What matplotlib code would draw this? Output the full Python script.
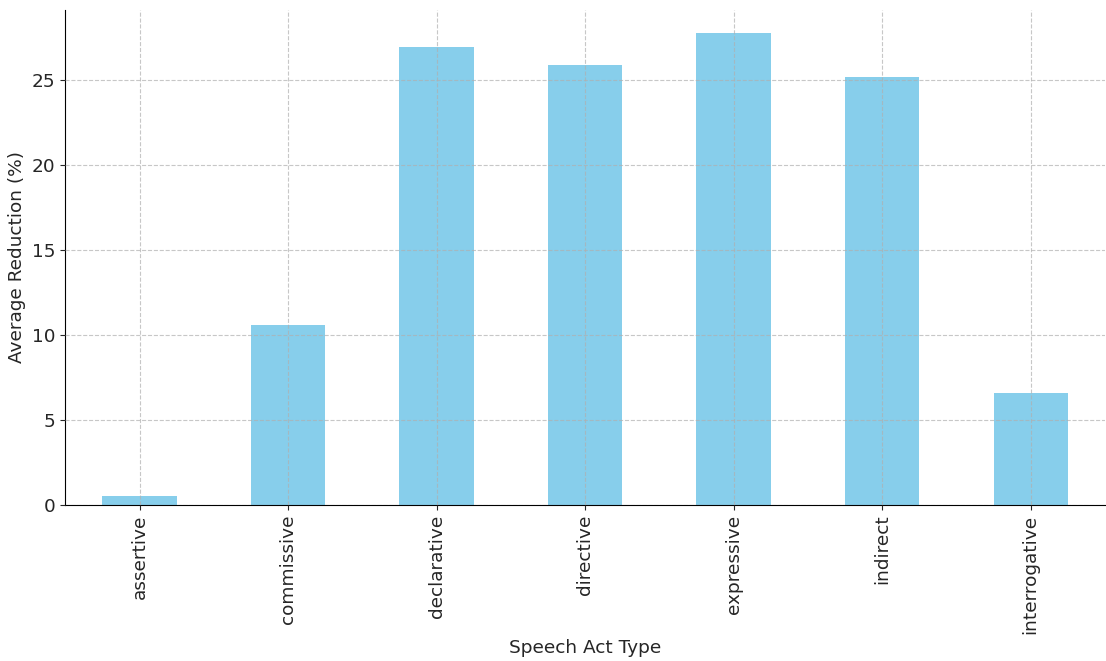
import matplotlib
matplotlib.use('Agg')
import matplotlib.pyplot as plt

# Average reduction per speech act type
speech_acts = ['assertive', 'commissive', 'declarative', 'directive',
               'expressive', 'indirect', 'interrogative']
avg_reduction = [0.53, 10.6, 26.94, 25.84, 27.72, 25.18, 6.59]

plt.rcParams['font.size'] = 13.3
plt.rcParams['text.color'] = '#262626'
plt.rcParams['axes.labelcolor'] = '#262626'
plt.rcParams['xtick.color'] = '#262626'
plt.rcParams['ytick.color'] = '#262626'

fig, ax = plt.subplots(figsize=(11.06, 6.61), dpi=100)
x = range(len(speech_acts))
ax.bar(x, avg_reduction, width=0.5, color='skyblue', zorder=1)
ax.set_xlim(-0.5, len(speech_acts) - 0.5)
ax.set_xticks(list(x))
ax.set_xticklabels(speech_acts, rotation=90)

ax.set_xlabel('Speech Act Type')
ax.set_ylabel('Average Reduction (%)')
ax.grid(True, linestyle='--', alpha=0.7, zorder=2)
ax.set_axisbelow(False)
ax.spines['top'].set_visible(False)
ax.spines['right'].set_visible(False)

plt.subplots_adjust(left=0.059, right=0.999, top=0.985, bottom=0.236)
plt.savefig('out.png')
